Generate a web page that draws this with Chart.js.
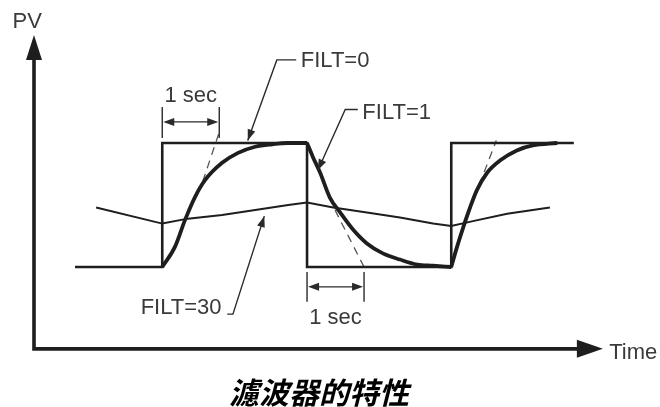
<!DOCTYPE html>
<html>
<head>
<meta charset="utf-8">
<script src="https://cdn.jsdelivr.net/npm/chart.js@4.4.1/dist/chart.umd.min.js"></script>
<style>
  html,body{margin:0;padding:0;background:#fff;overflow:hidden}
  canvas{display:block}
</style>
</head>
<body>
<canvas id="c" width="660" height="407"></canvas>
<script>
// time in seconds, PV normalised (0 = low level, 1 = high level)
var stepT = [0.72, 2.25, 2.25, 4.79, 4.79, 7.32, 7.32, 9.47];
var stepV = [0, 0, 1, 1, 0, 0, 1, 1];

// FILT=1 response, three pieces
var rise1T = [2.25, 2.47, 2.65, 2.82, 3.0, 3.30, 3.58, 3.88, 4.18, 4.46, 4.79];
var rise1V = [0, 0.16, 0.38, 0.56, 0.70, 0.84, 0.92, 0.97, 0.99, 1.0, 1.0];
var fallT = [4.79, 4.89, 5.02, 5.19, 5.37, 5.60, 5.84, 6.12, 6.42, 6.72, 7.0, 7.32];
var fallV = [1.0, 0.89, 0.76, 0.56, 0.44, 0.30, 0.19, 0.11, 0.06, 0.02, 0.01, 0];
var rise2T = [7.32, 7.42, 7.53, 7.65, 7.77, 7.95, 8.18, 8.47, 8.75, 9.18];
var rise2V = [0, 0.16, 0.32, 0.48, 0.62, 0.76, 0.86, 0.94, 0.98, 1.0];

// FILT=30 response
var slowT = [1.09, 2.25, 2.70, 3.30, 3.88, 4.46, 4.79, 5.25, 5.84, 6.42, 7.0, 7.32, 7.70, 8.30, 9.05];
var slowV = [0.48, 0.35, 0.39, 0.42, 0.46, 0.50, 0.52, 0.48, 0.44, 0.40, 0.35, 0.33, 0.37, 0.43, 0.48];

// dashed tangents (time constant)
var tangentT = [[2.96, 3.26], [5.28, 5.79], [7.81, 8.11]];
var tangentV = [[0.69, 1.10], [0.46, 0], [0.66, 1.02]];

var timeAxisEnd = 9.98;
var pvAxisEnd = 1.87;
var axisV = -0.66;

var caption = '濾波器的特性';

function pts(ts, vs){
  return ts.map(function(t, i){ return {x: t, y: vs[i]}; });
}

var ink = '#1e1e1e';
var textInk = '#3a3a3a';

var datasets = [
  {data: pts(stepT, stepV), borderColor: ink, borderWidth: 2.6, tension: 0},
  {data: pts(slowT, slowV), borderColor: ink, borderWidth: 2, tension: 0},
  {data: pts(rise1T, rise1V), borderColor: ink, borderWidth: 3.8, cubicInterpolationMode: 'monotone'},
  {data: pts(fallT, fallV), borderColor: ink, borderWidth: 3.8, cubicInterpolationMode: 'monotone'},
  {data: pts(rise2T, rise2V), borderColor: ink, borderWidth: 3.8, cubicInterpolationMode: 'monotone'}
];
tangentT.forEach(function(ts, i){
  datasets.push({data: pts(ts, tangentV[i]), borderColor: '#555', borderWidth: 1.3, borderDash: [8, 6], tension: 0});
});
datasets.forEach(function(d){
  d.showLine = true; d.pointRadius = 0; d.fill = false; d.clip = false;
  d.borderCapStyle = 'butt'; d.borderJoinStyle = 'miter';
});

var notes = [
  {text: 'FILT=0', t: 4.68, v: 1.66, align: 'left', lead: {t: [4.60, 4.26, 3.75], v: [1.67, 1.67, 1.02]}},
  {text: 'FILT=1', t: 5.76, v: 1.24, align: 'left', lead: {t: [5.68, 5.46, 4.98], v: [1.27, 1.27, 0.78]}},
  {text: 'FILT=30', t: 3.29, v: -0.33, align: 'right', lead: {t: [3.39, 3.49, 4.04], v: [-0.38, -0.38, 0.41]}}
];
var spans = [
  {t0: 2.25, t1: 3.25, top: 1.29, bot: 1.04, mid: 1.17, label: 1.38, labelAbove: true},
  {t0: 4.79, t1: 5.79, top: -0.04, bot: -0.28, mid: -0.16, label: -0.41, labelAbove: false}
];

function head(ctx, x, y, fx, fy, len, hw){
  var a = Math.atan2(y - fy, x - fx);
  ctx.save();
  ctx.translate(x, y); ctx.rotate(a);
  ctx.beginPath();
  ctx.moveTo(0, 0); ctx.lineTo(-len, -hw); ctx.lineTo(-len, hw); ctx.closePath();
  ctx.fill();
  ctx.restore();
}

var overlay = {
  id: 'overlay',
  afterDatasetsDraw: function(chart){
    var ctx = chart.ctx, xs = chart.scales.x, ys = chart.scales.y;
    function X(t){ return xs.getPixelForValue(t); }
    function Y(v){ return ys.getPixelForValue(v); }
    ctx.save();
    // axes
    ctx.strokeStyle = ink; ctx.fillStyle = ink; ctx.lineWidth = 3.6; ctx.lineCap = 'butt';
    var ox = X(0), oy = Y(axisV);
    ctx.beginPath();
    ctx.moveTo(ox, oy + 1.8); ctx.lineTo(ox, Y(pvAxisEnd) + 20);
    ctx.moveTo(ox - 1.8, oy); ctx.lineTo(X(timeAxisEnd) - 20, oy);
    ctx.stroke();
    head(ctx, ox, Y(pvAxisEnd), ox, oy, 25, 8);
    head(ctx, X(timeAxisEnd), oy, ox, oy, 26, 9);

    // leaders
    ctx.strokeStyle = '#2a2a2a'; ctx.fillStyle = '#2a2a2a'; ctx.lineWidth = 1.4;
    notes.forEach(function(n){
      var L = n.lead, k = L.t.length - 1;
      ctx.beginPath();
      ctx.moveTo(X(L.t[0]), Y(L.v[0]));
      for (var i = 1; i <= k; i++) ctx.lineTo(X(L.t[i]), Y(L.v[i]));
      ctx.stroke();
      head(ctx, X(L.t[k]), Y(L.v[k]), X(L.t[k - 1]), Y(L.v[k - 1]), 11, 4);
    });

    // 1 sec spans
    spans.forEach(function(s){
      var a = X(s.t0), b = X(s.t1), m = Y(s.mid);
      ctx.lineWidth = 1.4;
      ctx.beginPath();
      ctx.moveTo(a, Y(s.top)); ctx.lineTo(a, Y(s.bot));
      ctx.moveTo(b, Y(s.top)); ctx.lineTo(b, Y(s.bot));
      ctx.moveTo(a + 6, m); ctx.lineTo(b - 6, m);
      ctx.stroke();
      head(ctx, a + 1, m, b, m, 11, 4);
      head(ctx, b - 1, m, a, m, 11, 4);
    });

    // texts
    ctx.fillStyle = textInk; ctx.textBaseline = 'middle';
    ctx.font = '22px "Liberation Sans", Arial, sans-serif';
    notes.forEach(function(n){
      ctx.textAlign = n.align;
      ctx.fillText(n.text, X(n.t), Y(n.v));
    });
    ctx.textAlign = 'center';
    spans.forEach(function(s){
      ctx.fillText('1 sec', (X(s.t0) + X(s.t1)) / 2, Y(s.label));
    });
    ctx.fillText('PV', X(-0.12), Y(1.98));
    ctx.textAlign = 'left';
    ctx.fillText('Time', X(10.09), Y(-0.69));

    ctx.fillStyle = '#000';
    ctx.textAlign = 'center';
    ctx.font = 'italic bold 30px "Noto Sans CJK TC", "Noto Sans CJK SC", sans-serif';
    ctx.fillText(caption, X(5.0), Y(-1.01));
    ctx.restore();
  }
};

new Chart(document.getElementById('c').getContext('2d'), {
  type: 'scatter',
  data: {datasets: datasets},
  options: {
    responsive: false,
    devicePixelRatio: 1,
    animation: false,
    layout: {padding: 0},
    plugins: {legend: {display: false}, tooltip: {enabled: false}, title: {display: false}},
    scales: {
      x: {type: 'linear', min: -0.5965, max: 10.982, display: false},
      y: {type: 'linear', min: -1.129, max: 2.1532, display: false}
    }
  },
  plugins: [overlay]
});
</script>
</body>
</html>
